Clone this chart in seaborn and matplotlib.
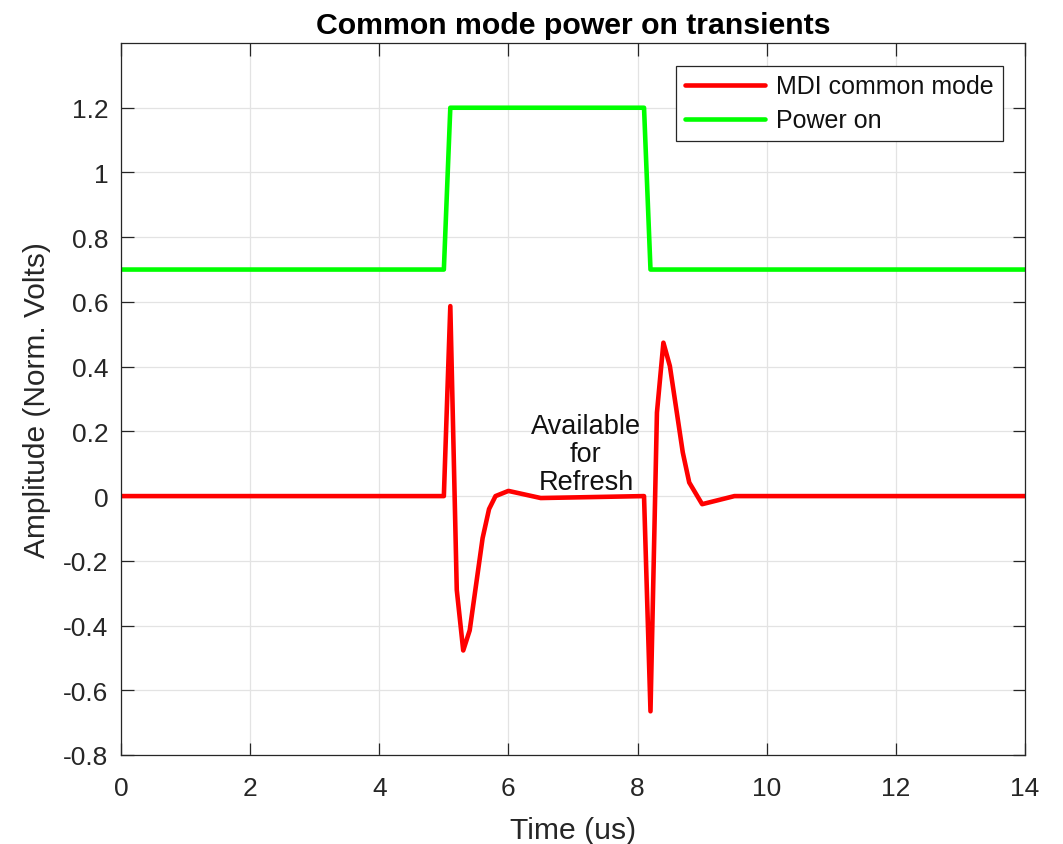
import matplotlib
matplotlib.use("Agg")
import matplotlib.pyplot as plt
import seaborn as sns
import pandas as pd
import numpy as np

# Data
t_mdi = [0.0, 5.0, 5.1, 5.2, 5.3, 5.4, 5.6, 5.7, 5.8, 6.0, 6.5, 8.1, 8.2, 8.3, 8.4, 8.5, 8.7, 8.8, 9.0, 9.5, 14.0]
v_mdi = [0.0, 0.0, 0.587, -0.29, -0.477, -0.415, -0.13, -0.04, 0.0, 0.016, -0.006, 0.0, -0.665, 0.258, 0.474, 0.402, 0.135, 0.042, -0.025, 0.0, 0.0]
t_pwr = [0.0, 5.0, 5.1, 8.1, 8.2, 14.0]
v_pwr = [0.7, 0.7, 1.2, 1.2, 0.7, 0.7]
x_ticks = [0, 2, 4, 6, 8, 10, 12, 14]
y_ticks = [-0.8, -0.6, -0.4, -0.2, 0, 0.2, 0.4, 0.6, 0.8, 1, 1.2]
y_tick_labels = ["-0.8", "-0.6", "-0.4", "-0.2", "0", "0.2", "0.4", "0.6", "0.8", "1", "1.2"]

sns.set_theme(style="whitegrid")
plt.rcParams['font.family'] = ['Liberation Sans', 'DejaVu Sans']

df = pd.concat([
    pd.DataFrame({"t": t_mdi, "v": v_mdi, "series": "MDI common mode"}),
    pd.DataFrame({"t": t_pwr, "v": v_pwr, "series": "Power on"}),
])

fig = plt.figure(figsize=(10.63, 8.45), dpi=100)
ax = fig.add_axes([121/1063, 1-756/845, (1025-121)/1063, (756-44)/845])
sns.lineplot(data=df, x="t", y="v", hue="series",
             palette={"MDI common mode": "#ff0000", "Power on": "#00ff00"},
             linewidth=3.3, ax=ax, sort=False, estimator=None)

ax.set_xlim(0, 14)
ax.set_ylim(-0.8, 1.4)
ax.set_xticks(x_ticks)
ax.set_yticks(y_ticks)
ax.set_yticklabels(y_tick_labels)
ax.tick_params(axis="both", direction="in", length=9, labelsize=19, colors="#262626",
               top=True, right=True, bottom=True, left=True, width=0.9)
ax.tick_params(axis="x", pad=15)
ax.tick_params(axis="y", pad=9)
for s in ax.spines.values():
    s.set_color("#262626")
    s.set_linewidth(0.9)
ax.grid(True, color="#e3e3e3", linewidth=0.9)
ax.set_facecolor("white")
ax.set_xlabel("Time (us)", fontsize=21.7, color="#262626", labelpad=12)
ax.set_ylabel("Amplitude (Norm. Volts)", fontsize=21.5, color="#262626", labelpad=9)
ax.set_title("Common mode power on transients", fontsize=21.8, fontweight="bold", pad=7, color="black")

ax.text(7.2, 0.13, "Available\nfor\nRefresh", ha="center", va="center", fontsize=19.5,
        linespacing=1.08, color="#111111")

leg = ax.legend(loc="upper right", fontsize=18, frameon=True, fancybox=False,
                framealpha=1, edgecolor="#262626", handlelength=3.2,
                borderaxespad=0.9, borderpad=0.35, labelspacing=0.4,
                handletextpad=0.45, title=None)
leg.get_frame().set_linewidth(0.9)
for t in leg.get_texts():
    t.set_color("#111111")

fig.savefig("out.png", dpi=100)
